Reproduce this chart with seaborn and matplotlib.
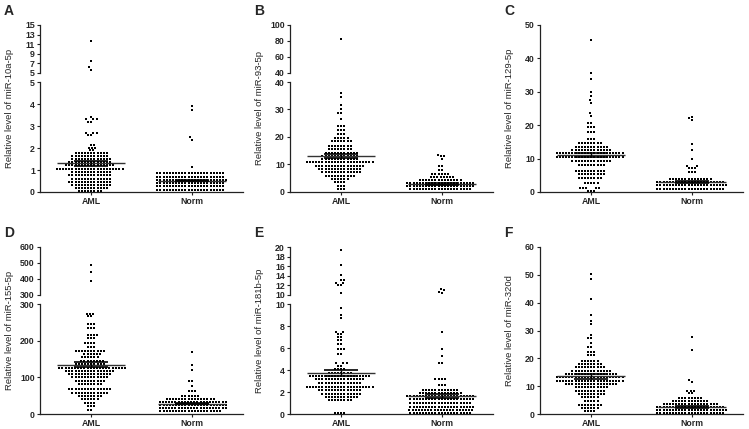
import numpy as np
import pandas as pd
import matplotlib
matplotlib.use("Agg")
import matplotlib.pyplot as plt
import seaborn as sns

groups = ["AML", "Norm"]

# dot rows: level of the row, number of dots in it
# A  miR-10a-5p
a_aml_lvl = [11.6, 7.6, 6.2, 5.7, 3.4, 3.3, 3.2, 2.7, 2.6, 2.15, 2.02, 1.9,
             1.77, 1.63, 1.49, 1.35, 1.21, 1.05, 0.9, 0.75, 0.61, 0.47, 0.33, 0.19, 0.05]
a_aml_cnt = [1, 1, 1, 1, 1, 3, 2, 3, 2, 2, 3, 2,
             11, 12, 13, 14, 16, 22, 13, 14, 13, 14, 13, 11, 8]
a_norm_lvl = [3.9, 3.72, 2.5, 2.38, 1.13, 0.85, 0.7, 0.55, 0.4, 0.25, 0.11]
a_norm_cnt = [1, 1, 1, 1, 1, 22, 22, 23, 22, 22, 22]
a_mean = [1.3, 0.52]
a_sem = [0.1, 0.04]

# B  miR-93-5p
b_aml_lvl = [82, 35.9, 34.7, 31.6, 30.2, 28.6, 26.5, 24.1, 22.6, 21.1, 19.8, 18.4, 16.9,
             15.6, 14.3, 13.1, 11.9, 10.8, 9.6, 8.4, 7.2, 5.9, 4.7, 3.5, 2.3, 1.1]
b_aml_cnt = [1, 1, 1, 1, 1, 2, 1, 3, 3, 3, 5, 7, 8,
             8, 11, 12, 12, 22, 16, 14, 13, 10, 6, 4, 3, 3]
b_norm_lvl = [13.5, 13.0, 12.0, 9.6, 8.0, 6.4, 5.3, 4.3, 3.2, 2.1, 1.0]
b_norm_cnt = [1, 2, 1, 2, 2, 6, 8, 14, 22, 22, 20]
b_mean = [13.1, 2.9]
b_sem = [0.8, 0.2]

# C  miR-129-5p
c_aml_lvl = [45.4, 35.5, 33.8, 29.8, 28.8, 27.4, 26.6, 23.6, 22.8, 20.6, 19.4, 18.1,
             15.8, 14.6, 13.6, 12.7, 11.8, 10.5, 9.3, 8.1, 6.4, 5.4, 4.1, 2.6, 1.1, 0.4]
c_aml_cnt = [1, 1, 1, 1, 1, 1, 1, 1, 1, 2, 3, 3,
             3, 8, 11, 13, 22, 22, 13, 9, 10, 9, 8, 5, 5, 3]
c_norm_lvl = [22.6, 22.2, 21.6, 14.3, 12.6, 9.9, 7.8, 7.1, 6.1, 3.9, 3.0, 2.0, 1.0]
c_norm_cnt = [1, 1, 1, 1, 1, 1, 2, 3, 3, 14, 22, 23, 22]
c_mean = [11.2, 3.0]
c_sem = [0.6, 0.3]

# D  miR-155-5p
d_aml_lvl = [488, 443, 388, 274, 267, 245, 234, 215, 207, 194, 183,
             172, 163, 155, 144, 136, 126, 118, 109, 100, 91, 82,
             68, 58, 49, 40, 31, 22, 11]
d_aml_cnt = [1, 1, 1, 3, 2, 3, 3, 4, 3, 4, 3,
             10, 6, 6, 8, 10, 22, 16, 14, 12, 10, 8,
             14, 12, 8, 6, 4, 3, 2]
d_norm_lvl = [170, 133, 120, 90, 76, 64, 49, 40, 32, 24, 16, 8]
d_norm_cnt = [1, 1, 1, 2, 1, 3, 6, 16, 22, 22, 22, 20]
d_mean = [134, 28]
d_sem = [7, 2]

# E  miR-181b-5p
e_aml_lvl = [19.3, 16.2, 14.2, 13.1, 12.5, 12.05, 10.4, 9.6, 9.0, 8.7, 7.5, 7.3, 7.0,
             6.7, 6.4, 5.9, 5.5, 4.6, 4.4, 4.1, 3.75, 3.45, 3.15, 2.85, 2.5, 2.15, 1.85,
             1.55, 1.27, 0.06]
e_aml_cnt = [1, 1, 1, 2, 2, 2, 1, 1, 1, 1, 2, 2, 2,
             2, 2, 3, 2, 3, 2, 4, 8, 20, 16, 14, 22, 14, 13,
             11, 8, 4]
e_norm_lvl = [11.3, 11.0, 10.7, 10.5, 7.5, 5.9, 5.3, 4.6, 3.2, 2.6, 2.2, 1.9, 1.62,
              1.33, 1.0, 0.67, 0.36, 0.1]
e_norm_cnt = [1, 1, 1, 1, 1, 1, 1, 2, 4, 3, 12, 14, 22, 21, 20, 21, 21, 20]
e_mean = [3.75, 1.65]
e_sem = [0.28, 0.15]

# F  miR-320d
f_aml_lvl = [50.3, 48.6, 41.2, 35.6, 33.5, 32.3, 28.4, 27.2, 25.6, 24.2, 22.4, 21.2,
             19.2, 18.0, 16.8, 15.6, 14.4, 13.2, 12.0, 10.8, 9.6, 8.4, 7.2, 6.0, 4.7,
             3.2, 2.0, 0.9]
f_aml_cnt = [1, 1, 1, 1, 1, 1, 1, 2, 1, 2, 3, 3,
             6, 8, 10, 13, 17, 22, 22, 17, 11, 10, 9, 6, 5,
             8, 6, 4]
f_norm_lvl = [27.5, 23.0, 12.2, 11.6, 8.4, 7.4, 5.9, 4.8, 3.6, 2.5, 1.4, 0.3]
f_norm_cnt = [1, 1, 1, 1, 3, 2, 8, 12, 18, 22, 23, 22]
f_mean = [13.5, 2.5]
f_sem = [0.8, 0.3]


def long_table(aml, norm):
    parts = []
    for g, (lvl, cnt) in zip(groups, [aml, norm]):
        parts.append(pd.DataFrame({"group": g, "value": np.repeat(lvl, cnt)}))
    return pd.concat(parts, ignore_index=True)


# panel settings: letter, miRNA, data, lower axis (lo, hi, ticks), upper axis or None
panels = [
    ("A", "miR-10a-5p", long_table((a_aml_lvl, a_aml_cnt), (a_norm_lvl, a_norm_cnt)), a_mean, a_sem,
     (0, 5, range(0, 6)), (5, 15, range(5, 16, 2))),
    ("B", "miR-93-5p", long_table((b_aml_lvl, b_aml_cnt), (b_norm_lvl, b_norm_cnt)), b_mean, b_sem,
     (0, 40, range(0, 41, 10)), (40, 100, range(40, 101, 20))),
    ("C", "miR-129-5p", long_table((c_aml_lvl, c_aml_cnt), (c_norm_lvl, c_norm_cnt)), c_mean, c_sem,
     (0, 50, range(0, 51, 10)), None),
    ("D", "miR-155-5p", long_table((d_aml_lvl, d_aml_cnt), (d_norm_lvl, d_norm_cnt)), d_mean, d_sem,
     (0, 300, range(0, 301, 100)), (300, 600, range(300, 601, 100))),
    ("E", "miR-181b-5p", long_table((e_aml_lvl, e_aml_cnt), (e_norm_lvl, e_norm_cnt)), e_mean, e_sem,
     (0, 10, range(0, 11, 2)), (10, 20, range(10, 21, 2))),
    ("F", "miR-320d", long_table((f_aml_lvl, f_aml_cnt), (f_norm_lvl, f_norm_cnt)), f_mean, f_sem,
     (0, 60, range(0, 61, 10)), None),
]

sns.set_theme(style="ticks")
plt.rcParams["font.family"] = ["Liberation Sans", "DejaVu Sans"]

W, H = 749, 429
fig = plt.figure(figsize=(W / 100, H / 100), dpi=100)


def px_axes(x0, top, w, h):
    return fig.add_axes([x0 / W, 1 - (top + h) / H, w / W, h / H])


def style_axis(ax, lim, ticks, bottom):
    ax.set_ylim(*lim)
    ax.set_yticks(list(ticks))
    ax.set_xlim(-0.51, 1.51)
    ax.set_xlabel("")
    ax.set_ylabel("")
    for s in ["top", "right"]:
        ax.spines[s].set_visible(False)
    for s in ["left", "bottom"]:
        ax.spines[s].set_linewidth(0.9)
        ax.spines[s].set_color("#222222")
    ax.tick_params(length=2.5, width=0.8, pad=1.2, labelsize=6.3, color="#222222")
    for lab in ax.get_yticklabels() + ax.get_xticklabels():
        lab.set_fontweight("bold")
    if not bottom:
        ax.spines["bottom"].set_visible(False)
        ax.tick_params(axis="x", bottom=False, labelbottom=False)


# the clear edge only widens the spacing the swarm keeps between dots
gap_edge = (1, 1, 1, 0)


def draw_dots(ax, df):
    for g in groups:
        sns.swarmplot(data=df[df["group"] == g], x="group", y="value", order=groups,
                      marker="s", size=1.9, color="black", edgecolor=gap_edge, linewidth=0.25,
                      warn_thresh=1, ax=ax)


col_x = [40, 290, 540]
row_top = [25, 247]
ax_w, full_h = 203, 167
up_h, gap = 48, 9

for k, (letter, mir, df, mean, sem, low, high) in enumerate(panels):
    x0 = col_x[k % 3]
    top = row_top[k // 3]
    if high is None:
        ax = px_axes(x0, top, ax_w, full_h)
    else:
        up = px_axes(x0, top, ax_w, up_h)
        draw_dots(up, df)
        style_axis(up, high[:2], high[2], bottom=False)
        ax = px_axes(x0, top + up_h + gap, ax_w, full_h - up_h - gap)
    draw_dots(ax, df)
    for i in range(2):
        ax.hlines(mean[i], i - 0.34, i + 0.34, color="#333333", lw=1.0, zorder=4)
        ax.hlines([mean[i] - sem[i], mean[i] + sem[i]], i - 0.17, i + 0.17,
                  color="black", lw=1.2, zorder=4)
        ax.vlines(i, mean[i] - sem[i], mean[i] + sem[i], color="black", lw=1.0, zorder=4)
    style_axis(ax, low[:2], low[2], bottom=True)

    fig.text((x0 - 30) / W, 1 - (top + full_h / 2) / H, "Relative level of " + mir,
             rotation=90, ha="center", va="center", fontsize=6.8)
    fig.text((x0 - 36) / W, 1 - (top - 14) / H, letter, fontsize=10,
             fontweight="bold", ha="left", va="center")

fig.savefig("out.png", dpi=100)
